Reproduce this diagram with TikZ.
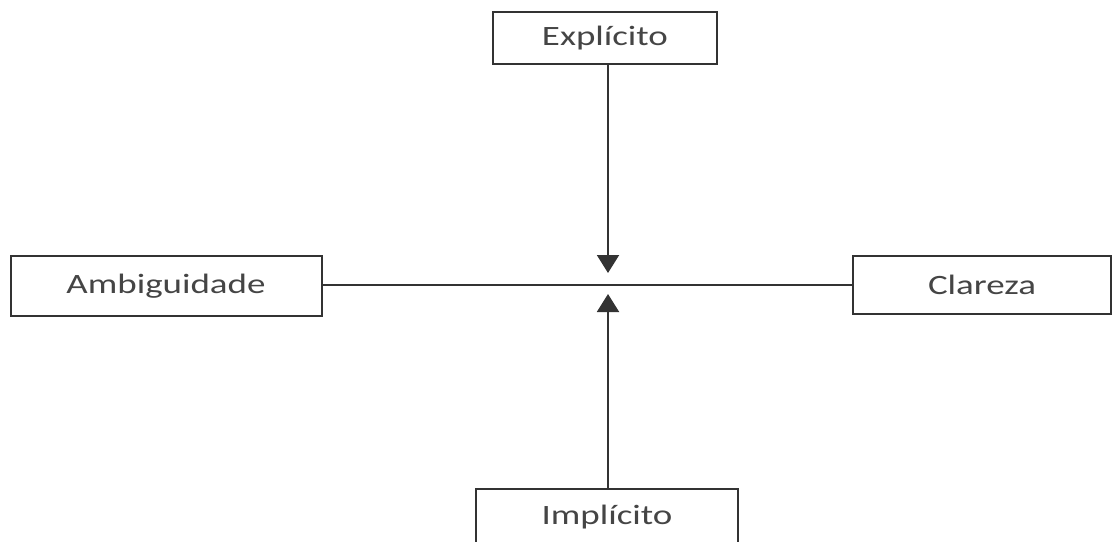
\documentclass[tikz,border=0pt]{standalone}
\usepackage{fontspec}
\setmainfont{Carlito}
\usetikzlibrary{arrows.meta}
\definecolor{linec}{HTML}{333333}
\definecolor{textc}{HTML}{454545}
\tikzset{
  box/.style={draw=linec, line width=2pt, fill=white, inner sep=0pt,
    font=\fontsize{28}{30}\selectfont, text=textc},
  conn/.style={draw=linec, line width=2pt},
  arr/.style={conn, -{Triangle[width=22pt,length=18pt]}}
}
\newcommand{\wtxt}[1]{\scalebox{1.32}[1]{#1}}
\begin{document}
\begin{tikzpicture}[x=1pt,y=-1pt]
\useasboundingbox (0,0) rectangle (1118,541);
\clip (0,0) rectangle (1118,541);
\node[box, minimum width=224pt, minimum height=52pt] (expl) at (605,38) {\wtxt{Explícito}};
\node[box, minimum width=311pt, minimum height=60pt] (amb) at (166,286) {\wtxt{Ambiguidade}};
\node[box, minimum width=258pt, minimum height=58pt] (clar) at (982,285) {\wtxt{Clareza}};
\node[box, minimum width=262pt, minimum height=56pt] (impl) at (607,517) {\wtxt{Implícito}};
\coordinate (tipdown) at (608,273);
\coordinate (tipup) at (608,294);
\draw[conn] (amb.east |- 0,285) -- (clar.west |- 0,285);
\draw[arr] (expl.south -| tipdown) -- (tipdown);
\draw[arr] (impl.north -| tipup) -- (tipup);
\end{tikzpicture}
\end{document}
